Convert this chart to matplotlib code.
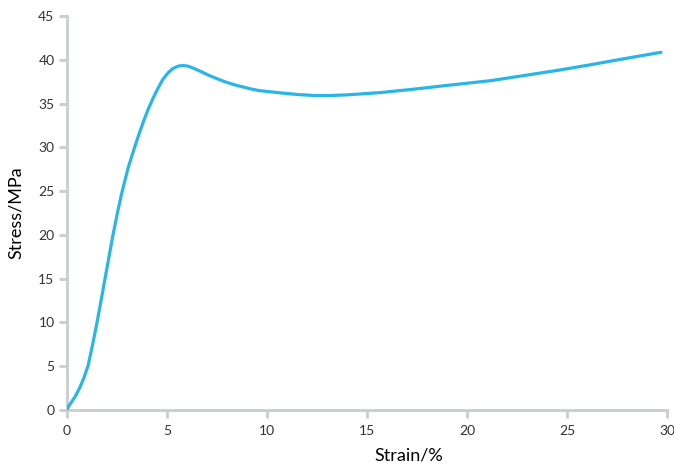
import matplotlib
matplotlib.use('Agg')
from matplotlib import pyplot as plt

# 读图得到的应力-应变数据
strain = [0, 0.07, 0.4, 0.65, 0.85, 1.06, 1.31, 1.51, 1.72, 1.86, 2.1, 2.3, 2.52, 2.72,
          3.05, 3.38, 3.6, 3.8, 4.05, 4.29, 4.55, 4.79, 5.05, 5.29, 5.55, 5.79, 6.05,
          6.28, 6.7, 7.11, 7.55, 7.94, 8.44, 9.1, 9.6, 10.75, 11.6, 12.4, 13.2, 14.06,
          15.71, 17.37, 19.03, 20.0, 21.2, 22.8, 24.5, 26.1, 27.8, 29.7]
stress = [0, 0.38, 1.5, 2.6, 3.7, 5.1, 7.8, 10.1, 12.7, 14.5, 17.5, 20.0, 22.5, 24.6,
          27.6, 30.0, 31.5, 32.8, 34.3, 35.55, 36.75, 37.75, 38.5, 39.0, 39.27, 39.35, 39.27,
          39.08, 38.65, 38.2, 37.8, 37.45, 37.1, 36.72, 36.48, 36.2, 36.02, 35.92, 35.92, 36.0,
          36.26, 36.65, 37.08, 37.32, 37.62, 38.18, 38.78, 39.4, 40.1, 40.85]

xticks = [0, 5, 10, 15, 20, 25, 30]
yticks = [0, 5, 10, 15, 20, 25, 30, 35, 40, 45]

plt.rcParams['font.family'] = ['Lato', 'DejaVu Sans']

fig = plt.figure(figsize=(6.74, 4.65), dpi=100)
ax = fig.add_axes([67 / 674, 1 - 410 / 465, (667 - 67) / 674, (410 - 16) / 465])

ax.plot(strain, stress, color='#2ab5e6', linewidth=2.3, solid_capstyle='round',
        solid_joinstyle='round', zorder=3)

ax.set_xlim(0, 30)
ax.set_ylim(0, 45)
ax.set_xticks(xticks)
ax.set_yticks(yticks)

grey = '#c9cdd1'
for s in ['top', 'right']:
    ax.spines[s].set_visible(False)
for s in ['left', 'bottom']:
    ax.spines[s].set_color(grey)
    ax.spines[s].set_linewidth(2)
ax.tick_params(axis='both', direction='out', length=6, width=2, color=grey,
               labelsize=10, labelcolor='#333333')
ax.tick_params(axis='x', pad=5)
ax.tick_params(axis='y', pad=3)

ax.set_xlabel('Strain/%', fontsize=13, labelpad=7)
ax.xaxis.set_label_coords(0.57, -0.095)
ax.set_ylabel('Stress/MPa', fontsize=13, labelpad=10)

plt.savefig('out.png', dpi=100)
